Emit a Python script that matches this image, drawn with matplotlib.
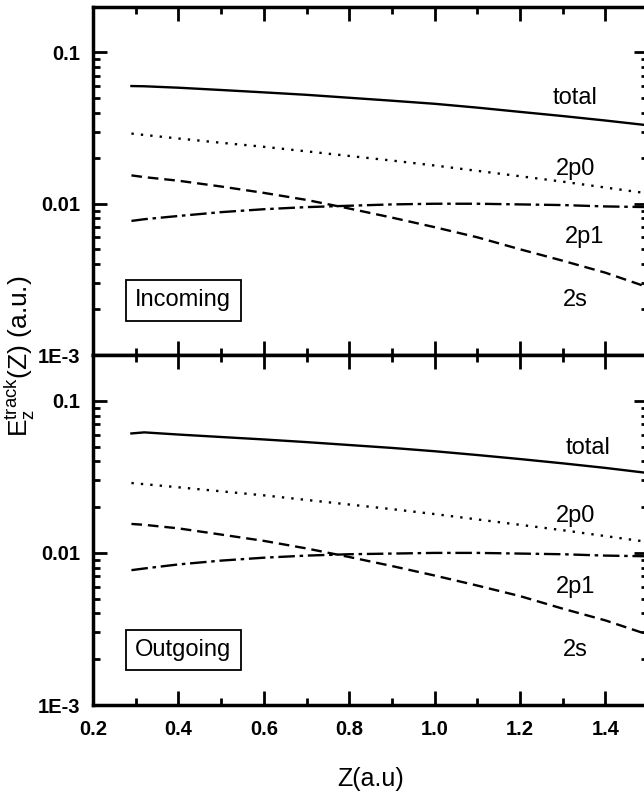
import matplotlib
matplotlib.use('Agg')
import matplotlib.pyplot as plt
from matplotlib.ticker import FixedLocator, MultipleLocator, LogLocator, NullFormatter

plt.rcParams['font.family'] = ['Liberation Sans', 'DejaVu Sans']
plt.rcParams['mathtext.fontset'] = 'custom'
plt.rcParams['mathtext.rm'] = 'Liberation Sans'
plt.rcParams['mathtext.it'] = 'Liberation Sans'

# data
x = [0.29, 0.32, 0.4, 0.5, 0.6, 0.7, 0.8, 0.9, 1.0, 1.1, 1.2, 1.3, 1.4, 1.5]

in_total = [0.060, 0.0598, 0.0585, 0.0565, 0.0545, 0.0525, 0.0502, 0.0480, 0.0458, 0.0432, 0.0405, 0.0380, 0.0355, 0.0330]
in_2p0 = [0.0291, 0.0285, 0.0270, 0.0253, 0.0238, 0.0222, 0.0207, 0.0193, 0.0179, 0.0165, 0.0152, 0.0140, 0.0128, 0.0117]
in_2p1 = [0.0077, 0.0079, 0.0083, 0.0088, 0.0092, 0.0095, 0.0097, 0.0099, 0.0100, 0.0100, 0.0099, 0.0098, 0.0096, 0.0095]
in_2s = [0.0154, 0.0150, 0.0142, 0.0130, 0.0118, 0.0106, 0.0093, 0.0081, 0.0070, 0.0060, 0.0050, 0.0042, 0.0035, 0.0028]

out_total = [0.0610, 0.0620, 0.0600, 0.0578, 0.0557, 0.0535, 0.0512, 0.0490, 0.0466, 0.0440, 0.0414, 0.0388, 0.0362, 0.0335]
out_2p0 = [0.0288, 0.0283, 0.0270, 0.0254, 0.0239, 0.0223, 0.0208, 0.0194, 0.0180, 0.0166, 0.0153, 0.0141, 0.0129, 0.0118]
out_2p1 = [0.0077, 0.0079, 0.0084, 0.0089, 0.0093, 0.0096, 0.0098, 0.0099, 0.0100, 0.0100, 0.0099, 0.0098, 0.0096, 0.0095]
out_2s = [0.0155, 0.0153, 0.0145, 0.0132, 0.0120, 0.0107, 0.0094, 0.0082, 0.0071, 0.0061, 0.0052, 0.0043, 0.0036, 0.0029]

curve_names = ['total', '2p0', '2p1', '2s']
label_x_in = [1.33, 1.33, 1.35, 1.33]
label_y_in = [0.050, 0.0171, 0.0060, 0.0023]
label_x_out = [1.36, 1.33, 1.33, 1.33]
label_y_out = [0.049, 0.0175, 0.0060, 0.0023]

styles = ['-', (0, (1, 3)), (0, (7, 2, 1.5, 2)), (0, (4.5, 2.5))]

fig = plt.figure(figsize=(6.44, 7.91), dpi=100)
ax_top = fig.add_axes([0.1444, 0.5512, 0.862, 0.440])
ax_bot = fig.add_axes([0.1444, 0.1087, 0.862, 0.4425])

panels = [
    (ax_top, [in_total, in_2p0, in_2p1, in_2s], label_x_in, label_y_in, 'Incoming'),
    (ax_bot, [out_total, out_2p0, out_2p1, out_2s], label_x_out, label_y_out, 'Outgoing'),
]

for ax, series, labx, laby, title in panels:
    for ys, ls in zip(series, styles):
        ax.plot(x, ys, color='black', linestyle=ls, linewidth=1.7)
    for name, xx, yy in zip(curve_names, labx, laby):
        ax.text(xx, yy, name, fontsize=17, ha='center', va='center')
    ax.text(0.411, 0.0023, title, fontsize=17, ha='center', va='center',
            bbox=dict(boxstyle='square,pad=0.4', facecolor='white', edgecolor='black', linewidth=1.3))

    ax.set_yscale('log')
    ax.set_xlim(0.2, 1.5)
    ax.set_ylim(0.001, 0.2)
    ax.yaxis.set_major_locator(FixedLocator([0.001, 0.01, 0.1]))
    ax.yaxis.set_minor_locator(LogLocator(base=10, subs=range(2, 10)))
    ax.yaxis.set_minor_formatter(NullFormatter())
    ax.set_yticklabels(['1E-3', '0.01', '0.1'], fontsize=14.5, fontweight='bold')
    ax.xaxis.set_major_locator(MultipleLocator(0.2))
    ax.xaxis.set_minor_locator(MultipleLocator(0.1))
    ax.tick_params(which='both', direction='in', top=True, right=True, width=2)
    ax.tick_params(which='major', length=10)
    ax.tick_params(which='minor', length=5)
    ax.tick_params(axis='y', pad=9)
    for sp in ax.spines.values():
        sp.set_linewidth(2.5)

ax_top.tick_params(labelbottom=False)
ax_bot.set_xticks([0.2, 0.4, 0.6, 0.8, 1.0, 1.2, 1.4])
ax_bot.set_xticklabels(['0.2', '0.4', '0.6', '0.8', '1.0', '1.2', '1.4'], fontsize=14.5, fontweight='bold')
ax_bot.tick_params(axis='x', pad=11)
ax_bot.set_xlabel('Z(a.u)', fontsize=18, labelpad=20)

fig.text(0.031, 0.55, r'$\mathregular{E_z^{track}}$(Z) (a.u.)', rotation=90,
         fontsize=19, ha='center', va='center')

fig.savefig('out.png', dpi=100)
